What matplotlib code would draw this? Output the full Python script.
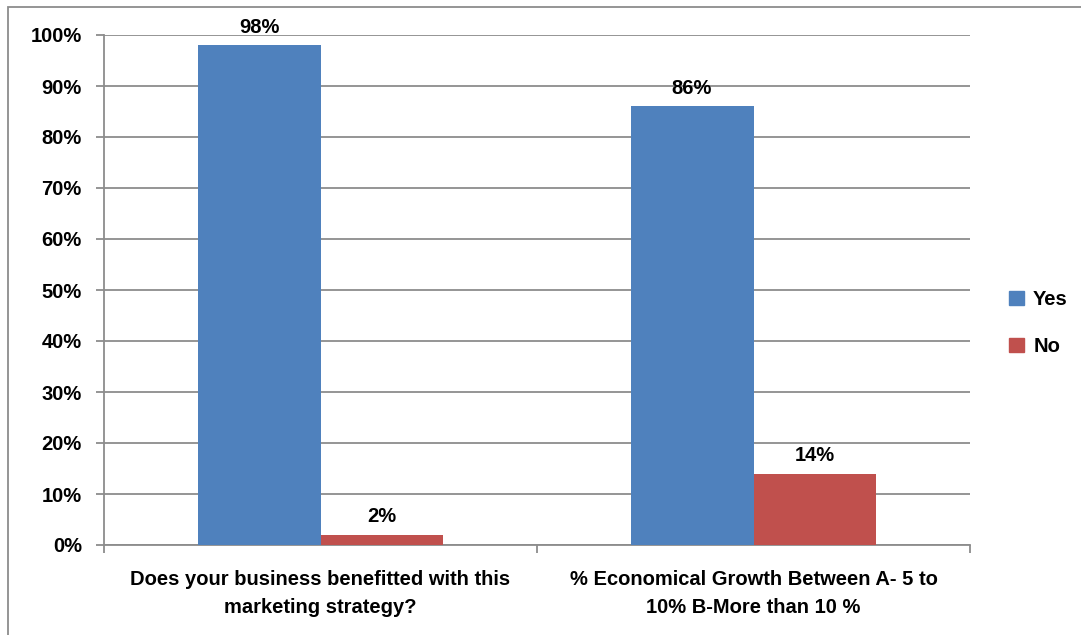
import matplotlib.pyplot as plt
from matplotlib.patches import Patch, Rectangle
import numpy as np

categories = ["Does your business benefitted with this\nmarketing strategy?",
              "% Economical Growth Between A- 5 to\n10% B-More than 10 %"]
yes_vals = [98, 86]
no_vals = [2, 14]
series_names = ["Yes", "No"]

plt.rcParams['font.family'] = ['Liberation Sans', 'DejaVu Sans']
plt.rcParams['font.weight'] = 'bold'

blue = "#4f81bd"
red = "#c0504d"
grid_col = "#8c8c8c"
fs = 14.5

fig = plt.figure(figsize=(10.81, 6.35), dpi=100)
ax = fig.add_axes([104 / 1081, 1 - 545 / 635, (970 - 104) / 1081, (545 - 35) / 635])

x = np.arange(len(categories))
w = 0.284
b1 = ax.bar(x - w / 2, yes_vals, w, color=blue, zorder=3)
b2 = ax.bar(x + w / 2, no_vals, w, color=red, zorder=3)

for bars, vals in [(b1, yes_vals), (b2, no_vals)]:
    for r, v in zip(bars, vals):
        ax.annotate(f"{v}%", (r.get_x() + r.get_width() / 2, v), xytext=(0, 13),
                    textcoords="offset points", ha="center", va="center",
                    fontsize=fs, fontweight="bold")

ax.set_xlim(-0.5, 1.5)
ax.set_ylim(0, 100)
ax.set_yticks(range(0, 101, 10))
ax.set_yticklabels([f"{t}%" for t in range(0, 101, 10)], fontsize=fs, fontweight="bold")
ax.yaxis.grid(True, color=grid_col, linewidth=1.3, zorder=0)

ax.set_xticks([-0.5, 0.5, 1.5])
ax.set_xticklabels([])
ax.set_xticks(x, minor=True)
ax.set_xticklabels(categories, minor=True, fontsize=fs, fontweight="bold",
                   linespacing=1.6)
ax.tick_params(axis="x", which="minor", length=0, pad=18)
ax.tick_params(axis="x", which="major", length=6, color=grid_col, width=1.3)
ax.tick_params(axis="y", length=6, color=grid_col, width=1.3, pad=10)

for s in ["top", "right"]:
    ax.spines[s].set_visible(False)
for s in ["left", "bottom"]:
    ax.spines[s].set_color(grid_col)
    ax.spines[s].set_linewidth(1.3)

handles = [Patch(color=blue), Patch(color=red)]
fig.legend(handles, series_names, loc="center left", bbox_to_anchor=(1009 / 1081, 1 - 323 / 635),
           frameon=False, borderpad=0, borderaxespad=0, handlelength=0.75, handleheight=0.75,
           handletextpad=0.45, labelspacing=1.4, prop={'weight': 'bold', 'size': 14.5})

fig.patches.append(Rectangle((8 / 1081, -0.5), 2, 1.5 - 7 / 635, transform=fig.transFigure,
                             fill=False, edgecolor=grid_col, linewidth=1.3))

fig.savefig("out.png", dpi=100)
